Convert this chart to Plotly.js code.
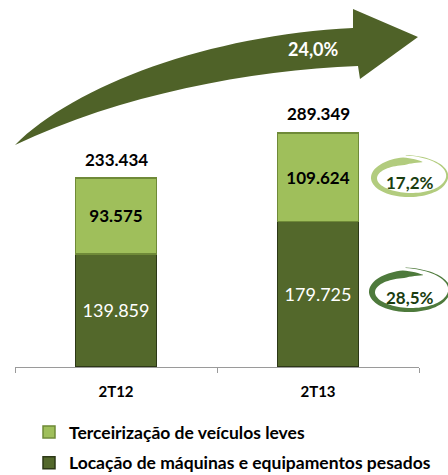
<!DOCTYPE html>
<html>
<head>
<meta charset="utf-8">
<script src="https://cdn.plot.ly/plotly-3.0.1.min.js"></script>
<style>
html,body{margin:0;padding:0;background:#fff;}
#chart{width:448px;height:475px;}
</style>
</head>
<body>
<div id="chart"></div>
<script>
// ---- data ----
const categories = ['2T12', '2T13'];
const locacao = [139859, 179725];          // Locação de máquinas e equipamentos pesados
const terceirizacao = [93575, 109624];     // Terceirização de veículos leves
const seriesNames = ['Locação de máquinas e equipamentos pesados', 'Terceirização de veículos leves'];
const growthTotal = '24,0%';
const growthTerceirizacao = '17,2%';
const growthLocacao = '28,5%';

// ---- helpers ----
const FONT = 'Lato, "Open Sans", sans-serif';
const W = 448, H = 475;
const M = {l: 15, r: 29, t: 0, b: 0, autoexpand: false};
const AXIS_Y = 367;                        // pixel row of the category axis
const PW = W - M.l - M.r, PH = H - M.t - M.b;
function px(x) { return (x - M.l) / PW; }
function py(y) { return (H - M.b - y) / PH; }
function pt(x, y) { return px(x).toFixed(5) + ',' + py(y).toFixed(5); }
function fmt(n) { return String(n).replace(/\B(?=(\d{3})+(?!\d))/g, '.'); }

const totals = categories.map((c, i) => locacao[i] + terceirizacao[i]);

const traces = [
  {
    type: 'bar', name: seriesNames[0], x: categories, y: locacao,
    marker: {color: '#53682b', line: {color: '#2c3816', width: 1.5}},
    text: locacao, texttemplate: '%{y:,.0f}', textposition: 'inside',
    insidetextanchor: 'middle', textangle: 0, constraintext: 'none',
    textfont: {family: FONT, size: 18, color: '#ffffff'},
    legendgroup: 'a', legendrank: 2, hoverinfo: 'none'
  },
  {
    type: 'bar', name: seriesNames[1], x: categories, y: terceirizacao,
    marker: {color: '#9fbf5b', line: {color: '#6f8a38', width: 1.5}},
    text: terceirizacao, texttemplate: '<b>%{y:,.0f}</b>', textposition: 'inside',
    insidetextanchor: 'middle', textangle: 0, constraintext: 'none',
    textfont: {family: FONT, size: 17, color: '#000000'},
    legendgroup: 'b', legendrank: 1, hoverinfo: 'none'
  }
];

// ---- decorative shapes ----
const shapes = [];
// big curved arrow
const arrowPath =
  'M' + pt(15, 145) +
  ' C' + pt(75, 85) + ' ' + pt(210, 35) + ' ' + pt(353, 28) +
  ' L' + pt(353, 9) +
  ' L' + pt(418, 37) +
  ' L' + pt(360, 79) +
  ' L' + pt(358, 66) +
  ' C' + pt(250, 70) + ' ' + pt(120, 95) + ' ' + pt(15, 145) + ' Z';
shapes.push({type: 'path', xref: 'paper', yref: 'paper', path: arrowPath,
  fillcolor: '#4f6228', line: {width: 0}, layer: 'above'});

// brush-stroke ring: starts at top, runs counter-clockwise (left, bottom, right)
// and ends as a thin tail crossing above its start
function ring(cx, cy, rx, ry, wmax) {
  const n = 90, outer = [], inner = [];
  const a0 = -70, a1 = -455;
  for (let i = 0; i <= n; i++) {
    const s = i / n;
    const a = (a0 + (a1 - a0) * s) * Math.PI / 180;
    const grow = s > 0.7 ? 1 + 0.35 * Math.pow((s - 0.7) / 0.3, 1.5) : 1;
    const w = 0.5 + wmax * Math.min(1, s / 0.08) * Math.pow(1 - s, 1.1);
    const ex = Math.cos(a), ey = Math.sin(a);
    outer.push(pt(cx + (rx * grow + w / 2) * ex, cy + (ry * grow + w / 2) * ey));
    inner.push(pt(cx + (rx * grow - w / 2) * ex, cy + (ry * grow - w / 2) * ey));
  }
  return 'M' + outer.join(' L') + ' L' + inner.reverse().join(' L') + ' Z';
}
shapes.push({type: 'path', xref: 'paper', yref: 'paper', layer: 'above',
  path: ring(410, 178, 36, 17, 8), fillcolor: '#b2cc7e', line: {width: 0}});
shapes.push({type: 'path', xref: 'paper', yref: 'paper', layer: 'above',
  path: ring(410, 292, 38, 18, 8), fillcolor: '#4e7a3c', line: {width: 0}});

// ---- annotations ----
const annotations = categories.map((c, i) => ({
  x: c, y: totals[i], xref: 'x', yref: 'y', text: '<b>' + fmt(totals[i]) + '</b>',
  xanchor: 'center', yanchor: 'middle',
  showarrow: false, yshift: 19, font: {family: FONT, size: 17, color: '#000'}
}));
annotations.push({xref: 'paper', yref: 'paper', x: px(313), y: py(49), text: '<b>' + growthTotal + '</b>',
  xanchor: 'center', yanchor: 'middle',
  showarrow: false, font: {family: FONT, size: 18, color: '#ffffff'}});
annotations.push({xref: 'paper', yref: 'paper', x: px(410), y: py(182), text: '<b>' + growthTerceirizacao + '</b>',
  xanchor: 'center', yanchor: 'middle',
  showarrow: false, font: {family: FONT, size: 17, color: '#1a3d10'}});
annotations.push({xref: 'paper', yref: 'paper', x: px(410), y: py(297), text: '<b>' + growthLocacao + '</b>',
  xanchor: 'center', yanchor: 'middle',
  showarrow: false, font: {family: FONT, size: 17, color: '#1a3d10'}});

const layout = {
  width: W, height: H,
  margin: M,
  paper_bgcolor: '#ffffff', plot_bgcolor: 'rgba(0,0,0,0)',
  barmode: 'stack', bargap: 0.6,
  separators: ',.',
  showlegend: true,
  legend: {
    x: px(29), y: py(414), xanchor: 'left', yanchor: 'top',
    traceorder: 'grouped', tracegroupgap: 5, itemwidth: 30,
    font: {family: FONT, size: 17.5, color: '#000', weight: 'bold'}, bgcolor: 'rgba(0,0,0,0)'
  },
  xaxis: {
    type: 'category', showline: true, linecolor: '#9a9a9a', linewidth: 1,
    ticks: 'outside', ticklen: 5, tickcolor: '#9a9a9a', tickson: 'boundaries',
    showgrid: false, zeroline: false, ticklabelstandoff: 11,
    tickfont: {family: FONT, size: 15, color: '#000', weight: 'bold'},
    fixedrange: true, automargin: false
  },
  yaxis: {
    domain: [(H - AXIS_Y) / H, 1],
    range: [0, 453500], visible: false, showgrid: false, zeroline: false,
    fixedrange: true, automargin: false
  },
  shapes: shapes,
  annotations: annotations,
  font: {family: FONT}
};

Plotly.newPlot('chart', traces, layout, {displayModeBar: false, staticPlot: true});
</script>
</body>
</html>
